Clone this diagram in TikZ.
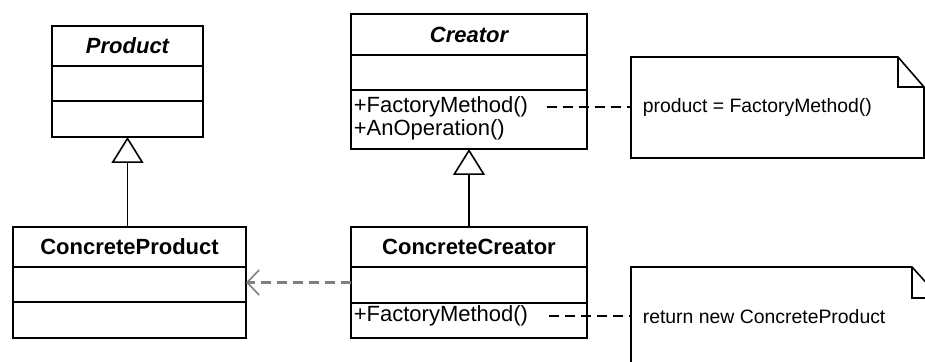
\documentclass[tikz,border=0pt]{standalone}
\usepackage{fontspec}
\setmainfont{Liberation Sans}
\usetikzlibrary{arrows.meta,calc,positioning}

\begin{document}
\begin{tikzpicture}[x=0.5pt, y=-0.5pt, line width=0.8pt,
		classbox/.style={draw, rectangle, inner sep=0pt, outer sep=0pt, anchor=north west},
		ctitle/.style={font=\fontsize{11}{13}\selectfont\bfseries},
		atitle/.style={font=\fontsize{11}{13}\selectfont\bfseries\itshape},
		member/.style={font=\fontsize{11}{13}\selectfont, anchor=west, inner sep=0pt},
		notetext/.style={font=\fontsize{9.7}{12}\selectfont, anchor=west, inner sep=0pt},
		notearea/.style={rectangle, inner sep=0pt, outer sep=0pt, anchor=north west},
		inherit/.style={-{Triangle[open, length=13pt, width=16pt]}},
		depend/.style={draw=gray, line width=1.3pt, dash pattern=on 5pt off 3pt, -{Straight Barb[length=6pt, width=12.5pt, line width=0.8pt]}},
		attach/.style={dash pattern=on 5pt off 3pt}]
		\useasboundingbox (0,0) rectangle (925,362);
		\clip (0,0) rectangle (925,362);
		% classes
		\node[classbox, minimum width=75.5pt, minimum height=55.5pt] (product) at (52,26) {};
		\node[classbox, minimum width=118pt, minimum height=67.5pt] (creator) at (351,14) {};
		\node[classbox, minimum width=116.5pt, minimum height=55.5pt] (cprod) at (13,227) {};
		\node[classbox, minimum width=118pt, minimum height=55.5pt] (ccreator) at (351,227) {};
		% compartments
		\foreach \c/\a/\b in {product/40/75, creator/41/76, cprod/40/75, ccreator/40/76} {
			\draw ($(\c.north west)+(0,\a)$) -- ($(\c.north east)+(0,\a)$);
			\draw ($(\c.north west)+(0,\b)$) -- ($(\c.north east)+(0,\b)$);
		}
		% class names
		\node[atitle] at ($(product.north)+(0,20)$) {Product};
		\node[atitle] at ($(creator.north)+(0,21)$) {Creator};
		\node[ctitle] at ($(cprod.north)+(0,20)$) {ConcreteProduct};
		\node[ctitle] at ($(ccreator.north)+(0,20)$) {ConcreteCreator};
		% operations
		\node[member] (fm1) at ($(creator.north west)+(2,93)$) {+FactoryMethod()};
		\node[member] (op1) at ($(creator.north west)+(2,116)$) {+AnOperation()};
		\node[member] (fm2) at ($(ccreator.north west)+(2,89)$) {+FactoryMethod()};
		% generalisation and dependency
		\draw[inherit] (cprod.north -| product.south) -- (product.south);
		\draw[inherit] (ccreator.north) -- (creator.south);
		\draw[depend] (ccreator.west) -- (cprod.east);
		% notes (folded corner at top right)
		\node[notearea, minimum width=146.5pt, minimum height=50.5pt] (note1) at (631,57) {};
		\node[notearea, minimum width=154.5pt, minimum height=55pt] (note2) at (631,267) {};
		\foreach \n/\fx/\fy in {note1/26/30, note2/28/31} {
			\draw (\n.north west) -- ($(\n.north east)+(-\fx,0)$) -- ($(\n.north east)+(0,\fy)$)
				-- (\n.south east) -- (\n.south west) -- cycle;
			\draw ($(\n.north east)+(-\fx,0)$) |- ($(\n.north east)+(0,\fy)$);
		}
		\node[notetext] (t1) at ($(note1.north west)+(11,50)$) {product = FactoryMethod()};
		\node[notetext] (t2) at ($(note2.north west)+(11,50)$) {return new ConcreteProduct};
		% note attachments
		\coordinate (a1) at ($(fm1.east)+(18,0)$);
		\coordinate (a2) at ($(fm2.east)+(20,0)$);
		\draw[attach] (a1) -- (a1 -| note1.west);
		\draw[attach] (a2) -- (a2 -| note2.west);
	\end{tikzpicture}
\end{document}
